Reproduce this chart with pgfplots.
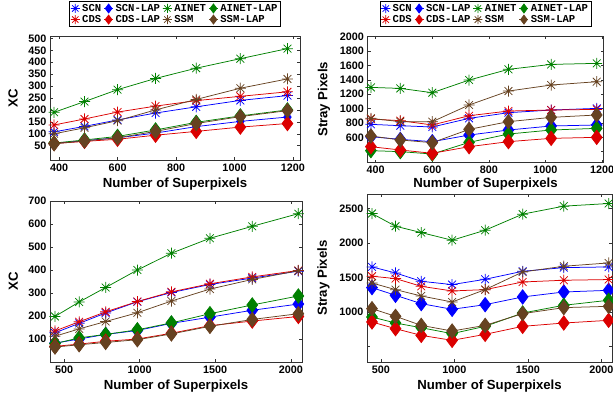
\documentclass[border=0pt]{standalone}
\usepackage{fontspec}
\setmainfont{Liberation Sans}
\newfontfamily\legfont{Liberation Mono}
\usepackage{pgfplots}
\pgfplotsset{compat=1.18}
\usepackage{pgfplotstable}

\definecolor{cblue}{rgb}{0,0,1}
\definecolor{cred}{rgb}{0.86,0,0}
\definecolor{cgreen}{rgb}{0,0.5,0}
\definecolor{cbrown}{rgb}{0.40,0.26,0.13}

\pgfdeclareplotmark{ast8}{%
  \pgfpathmoveto{\pgfqpoint{-\pgfplotmarksize}{0pt}}\pgfpathlineto{\pgfqpoint{\pgfplotmarksize}{0pt}}%
  \pgfpathmoveto{\pgfqpoint{0pt}{-\pgfplotmarksize}}\pgfpathlineto{\pgfqpoint{0pt}{\pgfplotmarksize}}%
  \pgfpathmoveto{\pgfqpoint{-0.707\pgfplotmarksize}{-0.707\pgfplotmarksize}}\pgfpathlineto{\pgfqpoint{0.707\pgfplotmarksize}{0.707\pgfplotmarksize}}%
  \pgfpathmoveto{\pgfqpoint{-0.707\pgfplotmarksize}{0.707\pgfplotmarksize}}\pgfpathlineto{\pgfqpoint{0.707\pgfplotmarksize}{-0.707\pgfplotmarksize}}%
  \pgfusepathqstroke}

\pgfplotstableread{
x    scn scnlap ainet ainetlap cds cdslap ssm ssmlap
383  108 60  190 61  137 59  100 58
487  131 71  235 74  162 68  125 70
600  158 83  285 89  191 77  155 83
730  187 103 332 116 216 94  200 110
869  213 130 375 148 239 110 244 143
1020 240 152 415 175 257 128 291 172
1181 260 170 457 200 276 143 330 197
}\tabTL

\pgfplotstableread{
x    scn  scnlap ainet ainetlap cds cdslap ssm  ssmlap
383  781  609  1295 415 855 470 864  619
487  762  572  1281 401 832 424 818  563
600  744  540  1221 368 772 378 818  526
730  864  632  1397 530 901 470 1050 711
869  943  702  1546 646 966 540 1244 818
1020 980  758  1615 702 980 586 1328 878
1181 1003 772  1629 725 989 600 1374 911
}\tabTR

\pgfplotstableread{
x    scn scnlap ainet ainetlap cds cdslap ssm ssmlap
440  127 82  198 80  135 68  112 65
600  168 100 261 105 175 78  144 75
775  213 120 324 120 218 90  176 85
985  262 137 400 140 263 100 214 97
1210 302 168 473 170 305 125 265 122
1465 337 195 538 210 340 158 317 155
1745 365 225 590 248 370 178 359 185
2050 395 252 645 287 398 198 397 210
}\tabBL

\pgfplotstableread{
x    scn  scnlap ainet ainetlap cds  cdslap ssm  ssmlap
440  1653 1353 2427 927  1518 855 1420 1048
600  1566 1242 2243 840  1484 758 1324 937
775  1445 1121 2151 772  1372 661 1232 806
985  1397 1039 2040 686  1305 589 1145 724
1210 1474 1106 2185 792  1324 676 1324 806
1465 1590 1218 2418 985  1435 792 1580 976
1745 1643 1290 2534 1097 1460 840 1663 1063
2050 1653 1314 2572 1170 1470 879 1711 1082
}\tabBR

\pgfplotsset{
  myaxis/.style={
    scale only axis, anchor=south west,
    axis line style={black!80, line width=0.6pt},
    tick align=inside, tick pos=both,
    major tick style={black!80, line width=0.5pt},
    major tick length=3pt,
    tick label style={font=\bfseries\fontsize{10.8}{11}\selectfont},
    label style={font=\bfseries\fontsize{13.2}{14}\selectfont},
    /pgf/number format/assume math mode=true,
    /pgf/number format/1000 sep={},
    clip mode=individual,
    every axis plot/.append style={line width=0.75pt},
    legend columns=4,
    legend style={font=\legfont\bfseries\fontsize{10.6}{11}\selectfont,
      draw=black, line width=0.6pt, inner sep=0.8pt, row sep=-1.5pt,
      /tikz/every even column/.append style={column sep=0.5pt},
      /tikz/every odd column/.append style={column sep=0pt}},
    legend cell align=left,
    legend image code/.code={\draw[mark repeat=2,mark phase=2,mark size=4.5pt] plot coordinates {(0pt,0pt) (4.5pt,0pt) (9pt,0pt)};},
  },
  st/.style={mark=ast8, mark size=5.5pt, mark options={solid}},
  di/.style={mark=diamond*, mark size=7.2pt, mark options={solid}},
}

\newcommand{\allplots}[2]{%
  \addplot[cblue, st] table[x=x,y=scn] {#1};
  \addplot[cblue, di, #2] table[x=x,y=scnlap] {#1};
  \addplot[cgreen, st] table[x=x,y=ainet] {#1};
  \addplot[cgreen, di] table[x=x,y=ainetlap] {#1};
  \addplot[cred, st] table[x=x,y=cds] {#1};
  \addplot[cred, di] table[x=x,y=cdslap] {#1};
  \addplot[cbrown, st] table[x=x,y=ssm] {#1};
  \addplot[cbrown, di] table[x=x,y=ssmlap] {#1};
}

\begin{document}
\begin{tikzpicture}
\path[use as bounding box] (0pt,0pt) rectangle (613pt,400pt);

% top-left
\begin{axis}[myaxis, at={(50pt,240pt)}, width=250pt, height=124pt,
  xmin=369, xmax=1224, ymin=-10, ymax=510,
  xtick={400,600,800,1000,1200}, ytick={50,100,...,500},
  xlabel={Number of Superpixels}, ylabel={XC},
  xlabel style={at={(axis description cs:0.5,-0.194)}, anchor=center},
  ylabel style={at={(axis description cs:-0.148,0.5)}, anchor=center, rotate=0},
  legend style={at={(0.5,1.073)}, anchor=south}]
\allplots{\tabTL}{mark size=5pt}
\legend{SCN,SCN-LAP,AINET,AINET-LAP,CDS,CDS-LAP,SSM,SSM-LAP}
\end{axis}

% top-right
\begin{axis}[myaxis, at={(367.5pt,237.5pt)}, width=236pt, height=126.5pt,
  xmin=371, xmax=1205, ymin=250, ymax=2010,
  xtick={400,600,800,1000,1200}, ytick={400,600,...,2000},
  yticklabels={{},600,800,1000,1200,1400,1600,1800,2000},
  xlabel={Number of Superpixels}, ylabel={Stray Pixels},
  xlabel style={at={(axis description cs:0.5,-0.172)}, anchor=center},
  ylabel style={at={(axis description cs:-0.185,0.5)}, anchor=center, rotate=0},
  legend style={at={(0.5,1.071)}, anchor=south}]
\allplots{\tabTR}{}
\legend{SCN,SCN-LAP,AINET,AINET-LAP,CDS,CDS-LAP,SSM,SSM-LAP}
\end{axis}

% bottom-left
\begin{axis}[myaxis, at={(50pt,38pt)}, width=252pt, height=161pt,
  xmin=407, xmax=2074, ymin=0, ymax=700,
  xtick={500,1000,1500,2000}, ytick={100,200,...,700},
  xlabel={Number of Superpixels}, ylabel={XC},
  xlabel style={at={(axis description cs:0.5,-0.147)}, anchor=center},
  ylabel style={at={(axis description cs:-0.146,0.5)}, anchor=center, rotate=0}]
\allplots{\tabBL}{}
\end{axis}

% bottom-right
\begin{axis}[myaxis, at={(367pt,38pt)}, width=245pt, height=168pt,
  xmin=406, xmax=2073, ymin=275, ymax=2710,
  xtick={500,1000,1500,2000}, ytick={500,1000,1500,2000,2500},
  yticklabels={{},1000,1500,2000,2500},
  xlabel={Number of Superpixels}, ylabel={Stray Pixels},
  xlabel style={at={(axis description cs:0.5,-0.143)}, anchor=center},
  ylabel style={at={(axis description cs:-0.178,0.5)}, anchor=center, rotate=0}]
\allplots{\tabBR}{}
\end{axis}
\end{tikzpicture}
\end{document}
